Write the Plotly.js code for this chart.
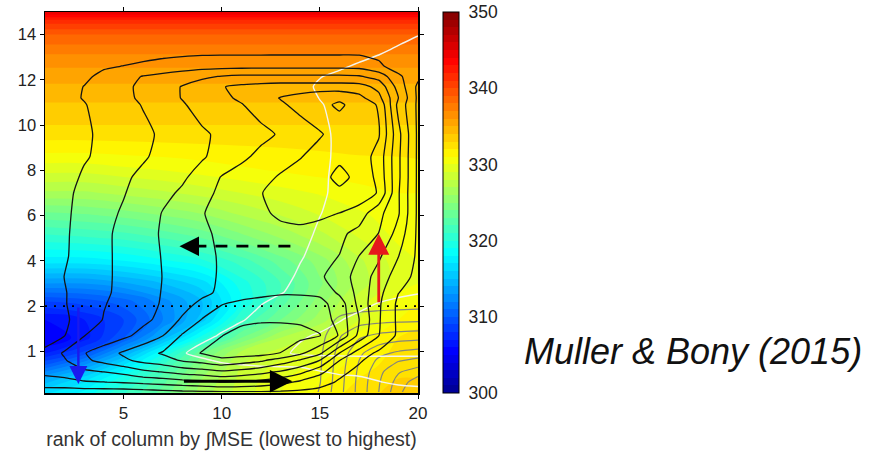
<!DOCTYPE html>
<html>
<head>
<meta charset="utf-8">
<script src="https://cdn.plot.ly/plotly-3.0.1.min.js"></script>
<style>html,body{margin:0;padding:0;background:#fff;}#chart{width:873px;height:452px;}</style>
</head>
<body>
<div id="chart"></div>
<script>
// ---------------- data ----------------
const RANK = [1,2,3,4,5,6,7,8,9,10,11,12,13,14,15,16,17,18,19,20];
const PSI_Z_KM = [0.1,0.32,0.55,0.8,0.96,1.35,1.7,2.1,2.6,3.3,4.2,5.2,6.1,7.0,7.7,8.6,9.6,10.9,11.2,11.7,12.15,12.6,13.3,14.2,15.0];

// overturning streamfunction (black contours)
const PSI = [
 [0.6,0.5,0.5,0.5,0.5,0.6,0.7,0.8,0.85,0.9,0.9,0.9,0.85,0.8,0.75,0.6,0.5,0.4,0.3,0.2],
 [1.5,1.65,1.9,1.98,2.1,2.25,2.4,2.6,2.75,3.02,2.9,2.7,2.3,1.8,1.3,0.9,0.6,0.45,0.35,0.3],
 [2.3,2.45,2.8,3.02,3.3,3.8,4.05,4.4,4.6,4.85,4.65,4.35,3.9,3.3,2.3,1.2,0.8,0.5,0.4,0.35],
 [2.4,2.9,3.8,4.3,4.8,5.3,5.6,6.1,6.4,6.8,6.5,6.15,5.55,4.9,3.98,2.02,1.1,0.6,0.5,0.4],
 [2.2,3.15,3.95,4.5,5.15,5.65,6.1,6.6,7.05,7.35,7.45,7.4,6.98,6.2,5.2,2.98,1.5,0.8,0.55,0.45],
 [1.6,1.98,2.98,3.35,3.75,4.35,4.98,6.1,6.6,6.98,7.3,7.4,7.4,7.3,7.05,5.9,3.7,2.02,0.8,0.5],
 [1.5,1.85,2.45,3.05,3.3,3.75,4.3,5.15,6.05,6.6,6.8,6.9,6.9,6.85,6.6,5.6,4.02,2.1,0.8,0.5],
 [1.45,1.95,2.4,2.95,3.3,3.6,4.1,4.6,5.25,5.95,6.25,6.35,6.4,6.35,6.3,5.55,3.7,2.15,0.8,0.5],
 [1.4,1.95,2.4,2.85,3.25,3.6,4.05,4.4,4.75,5.2,5.5,5.75,5.9,5.9,5.8,4.8,3.7,2.3,1.02,0.6],
 [1.35,2.02,2.45,2.85,3.2,3.55,4.02,4.35,4.75,5.1,5.3,5.4,5.45,5.35,5.15,4.5,3.6,2.6,1.5,0.7],
 [1.3,1.9,2.4,2.85,3.2,3.6,4.05,4.4,4.75,5.1,5.3,5.4,5.45,5.4,5.25,4.98,3.98,3.15,2.02,0.8],
 [1.3,1.85,2.45,2.85,3.2,3.65,4.1,4.45,4.85,5.15,5.4,5.6,5.75,5.8,5.6,5.2,4.7,3.98,2.6,0.8],
 [1.3,1.85,2.3,2.75,3.1,3.45,4.05,4.4,4.95,5.3,5.6,5.85,6.15,6.25,6.2,5.98,5.5,4.3,3.1,0.8],
 [1.3,1.75,2.3,2.6,2.95,3.35,3.75,4.15,4.7,5.2,5.5,5.98,6.2,6.4,6.65,6.85,6.7,5.9,3.1,0.8],
 [1.3,1.6,2.15,2.5,2.85,3.2,3.5,3.85,4.4,5.05,5.4,5.7,6.1,6.4,6.75,7.2,6.8,5.7,3.2,0.8],
 [1.35,1.6,1.9,2.25,2.55,2.9,3.25,3.5,3.9,4.35,4.8,5.25,5.6,5.95,6.4,6.85,6.6,5.6,3.2,0.8],
 [1.35,1.6,1.85,2.2,2.5,2.8,3.15,3.5,3.85,4.2,4.45,4.75,5.1,5.5,5.9,6.45,6.55,6.1,3.3,0.8],
 [1.4,1.7,1.95,2.35,2.7,3.05,3.45,3.9,4.4,4.75,4.95,5.4,5.85,6.3,6.75,7.15,6.6,5.9,2.7,0.8],
 [1.4,1.75,2.05,2.45,2.8,3.15,3.55,4.05,4.45,4.8,5.15,5.55,6.05,6.35,6.7,6.8,6.3,5.3,3.02,0.8],
 [1.4,1.7,2.02,2.4,2.8,3.2,3.6,4.05,4.5,4.95,5.2,5.35,5.45,5.45,5.45,5.45,5.4,4.7,2.6,0.8],
 [1.5,1.7,1.85,2.2,2.65,3.05,3.3,3.55,3.8,4.05,4.2,4.2,4.2,4.2,4.2,4.2,4.1,3.6,2.2,1.2],
 [1.6,1.7,1.8,1.9,2.02,2.15,2.33,2.5,2.65,2.7,2.72,2.74,2.75,2.75,2.75,2.75,2.7,2.2,1.5,1.2],
 [1.5,1.52,1.55,1.58,1.6,1.63,1.66,1.68,1.7,1.7,1.7,1.7,1.7,1.7,1.7,1.7,1.7,1.65,1.3,1.2],
 [1.45,1.5,1.5,1.5,1.5,1.5,1.5,1.5,1.5,1.5,1.5,1.5,1.5,1.5,1.5,1.5,1.45,1.4,1.25,1.2],
 [1.3,1.3,1.3,1.3,1.3,1.3,1.3,1.3,1.3,1.3,1.3,1.3,1.3,1.3,1.3,1.3,1.3,1.3,1.25,1.2]
];

// white contours field
const WHITE = [
 [0.5,0.5,0.5,0.5,0.5,0.5,0.5,0.5,0.5,0.5,0.5,0.5,0.5,0.5,0.5,0.5,0.5,0.5,0.5,0.5],
 [0.6,0.6,0.6,0.6,0.6,0.6,0.6,0.6,0.6,0.6,0.6,0.6,0.6,0.6,0.6,0.6,0.6,0.95,1.2,1.4],
 [0.6,0.6,0.6,0.6,0.6,0.6,0.6,0.6,0.6,0.6,0.6,0.6,0.6,0.6,0.95,1.15,1.3,1.4,1.5,1.6],
 [0.6,0.6,0.6,0.6,0.6,0.6,0.6,0.6,0.9,1.1,1.25,1.4,1.5,1.6,1.7,1.75,1.8,1.8,1.8,1.8],
 [0.6,0.6,0.6,0.6,0.6,0.6,0.6,0.95,1.2,1.4,1.6,1.75,1.9,2.1,2.15,2.15,2.15,2.15,2.15,2.15],
 [0.6,0.6,0.6,0.6,0.6,0.6,0.6,0.6,0.85,1.05,1.3,1.55,1.75,1.94,2.05,2.2,2.3,2.35,2.4,2.4],
 [0.6,0.6,0.6,0.6,0.6,0.6,0.6,0.6,0.6,0.8,0.95,1.2,1.4,1.6,1.8,1.97,2.15,2.25,2.3,2.35],
 [0.6,0.6,0.6,0.6,0.6,0.6,0.6,0.6,0.6,0.6,0.7,0.98,1.2,1.4,1.55,1.7,1.85,2.03,2.15,2.2],
 [0.6,0.6,0.6,0.6,0.6,0.6,0.6,0.6,0.6,0.6,0.6,0.8,0.97,1.15,1.3,1.45,1.6,1.75,1.88,1.97],
 [0.6,0.6,0.6,0.6,0.6,0.6,0.6,0.6,0.6,0.6,0.6,0.6,0.8,1.1,1.25,1.4,1.5,1.6,1.7,1.75],
 [0.6,0.6,0.6,0.6,0.6,0.6,0.6,0.6,0.6,0.6,0.6,0.6,0.6,0.95,1.2,1.3,1.4,1.5,1.6,1.65],
 [0.6,0.6,0.6,0.6,0.6,0.6,0.6,0.6,0.6,0.6,0.6,0.6,0.6,0.8,1.1,1.25,1.35,1.45,1.55,1.6],
 [0.6,0.6,0.6,0.6,0.6,0.6,0.6,0.6,0.6,0.6,0.6,0.6,0.6,0.7,0.98,1.2,1.3,1.4,1.5,1.55],
 [0.6,0.6,0.6,0.6,0.6,0.6,0.6,0.6,0.6,0.6,0.6,0.6,0.6,0.6,0.9,1.15,1.3,1.4,1.5,1.55],
 [0.6,0.6,0.6,0.6,0.6,0.6,0.6,0.6,0.6,0.6,0.6,0.6,0.6,0.6,0.88,1.15,1.3,1.4,1.5,1.55],
 [0.6,0.6,0.6,0.6,0.6,0.6,0.6,0.6,0.6,0.6,0.6,0.6,0.6,0.6,0.85,1.12,1.3,1.4,1.5,1.55],
 [0.6,0.6,0.6,0.6,0.6,0.6,0.6,0.6,0.6,0.6,0.6,0.6,0.6,0.6,0.85,1.12,1.3,1.4,1.5,1.55],
 [0.6,0.6,0.6,0.6,0.6,0.6,0.6,0.6,0.6,0.6,0.6,0.6,0.6,0.6,0.95,1.2,1.3,1.4,1.5,1.55],
 [0.6,0.6,0.6,0.6,0.6,0.6,0.6,0.6,0.6,0.6,0.6,0.6,0.6,0.7,1.02,1.2,1.3,1.4,1.5,1.55],
 [0.6,0.6,0.6,0.6,0.6,0.6,0.6,0.6,0.6,0.6,0.6,0.6,0.6,0.8,1.1,1.25,1.35,1.45,1.5,1.55],
 [0.6,0.6,0.6,0.6,0.6,0.6,0.6,0.6,0.6,0.6,0.6,0.6,0.6,0.7,0.97,1.15,1.3,1.4,1.5,1.55],
 [0.6,0.6,0.6,0.6,0.6,0.6,0.6,0.6,0.6,0.6,0.6,0.6,0.6,0.6,0.7,0.9,1.1,1.25,1.35,1.4],
 [0.6,0.6,0.6,0.6,0.6,0.6,0.6,0.6,0.6,0.6,0.6,0.6,0.6,0.6,0.6,0.6,0.7,0.9,1.1,1.25],
 [0.6,0.6,0.6,0.6,0.6,0.6,0.6,0.6,0.6,0.6,0.6,0.6,0.6,0.6,0.6,0.6,0.6,0.6,0.7,0.9],
 [0.6,0.6,0.6,0.6,0.6,0.6,0.6,0.6,0.6,0.6,0.6,0.6,0.6,0.6,0.6,0.6,0.6,0.6,0.6,0.6]
];

// gray contours field (lower-right corner)
const GRAY_Z_KM = [0.1,0.32,0.55,0.8,0.96,1.35,1.7,2.1,2.6];
const GRAY = [
 [0,0,0,0,0,0,0,0,0,0,0,0,0,0,1.1,2.67,4.33,6.0,7.67,9.3],
 [0,0,0,0,0,0,0,0,0,0,0,0,0,0,0.95,2.6,4.3,5.9,7.4,8.6],
 [0,0,0,0,0,0,0,0,0,0,0,0,0,0,0.9,2.55,4.2,5.7,6.9,7.5],
 [0,0,0,0,0,0,0,0,0,0,0,0,0,0,0.85,2.45,4.0,5.2,5.9,6.25],
 [0,0,0,0,0,0,0,0,0,0,0,0,0,0,0.8,2.35,3.8,4.7,5.2,5.45],
 [0,0,0,0,0,0,0,0,0,0,0,0,0,0,0.6,1.9,2.8,3.2,3.4,3.5],
 [0,0,0,0,0,0,0,0,0,0,0,0,0,0,0.3,1.2,1.5,1.65,1.75,1.8],
 [0,0,0,0,0,0,0,0,0,0,0,0,0,0,0,0.3,0.45,0.5,0.55,0.6],
 [0,0,0,0,0,0,0,0,0,0,0,0,0,0,0,0,0,0,0,0]
];

// moist static energy (K), colour field
const MSE_RANK = [1,3,5,7,9,11,13,15,17,19,20];
const MSE_Z_KM = [0.05,0.4,0.7,1.0,1.3,1.7,2.2,3,4,5,6,7,8,9,10,11,12,13,14,14.6,15.0];
const MSE = [
 [317,318.5,321,323.5,326.5,328.5,330,331.3,332.5,333.5,333.5],
 [314,316.5,319.5,322.5,326,328.3,329.8,330.8,332,333,333],
 [310,313,317,321,325,328,329.3,330.2,331.5,332.5,332.5],
 [306.5,309,313.5,318.5,323.5,327,328.3,329.4,331,332.3,332.5],
 [305,306.5,310,314.5,319.5,324,327,328.5,330.5,332,332.5],
 [306,307,309,312,315.5,321,324,326.5,329,331,331.5],
 [309,309.5,310.5,312.5,315,319,322.5,325.5,328.5,330.5,331],
 [313,313,313.8,315,316.5,319.5,322,324.8,327.5,329.5,330],
 [317.5,317.5,318,318.8,319.8,321.5,323.5,325.5,327.8,329.5,330],
 [320.5,320.8,321.2,322,323,324.5,326,327.5,329,330.2,330.5],
 [323.5,323.8,324.3,325,325.8,327,328,329,329.8,330.5,330.7],
 [326.8,326.8,327.3,327.8,328.4,329,329.6,330.1,330.6,331,331],
 [329.3,329.3,329.7,330,330.4,330.8,331.1,331.4,331.6,331.7,331.8],
 [331.5,331.5,331.6,331.7,331.8,331.9,332,332.1,332.2,332.2,332.2],
 [333,333,333,333,333,333,333,333,333,333,333],
 [334,334,334,334,334,334,334,334,334,334,334],
 [335.2,335.2,335.2,335.2,335.2,335.2,335.2,335.2,335.2,335.2,335.2],
 [336.7,336.7,336.7,336.7,336.7,336.7,336.7,336.7,336.7,336.7,336.7],
 [339,339,339,339,339,339,339,339,339,339,339],
 [341.5,341.5,341.5,341.5,341.5,341.5,341.5,341.5,341.5,341.5,341.5],
 [345,345,345,345,345,345,345,345,345,345,345]
];

const X_TICKS = [5,10,15,20];
const Y_TICKS_KM = [1,2,4,6,8,10,12,14];
const CB_TICKS = [300,310,320,330,340,350];

// arrows: [rank, km] tail -> head
const ARROWS = [
 {tail:[2.7,2.0],  head:[2.7,0.28], color:'#1a1aee', width:2.4},
 {tail:[18.0,2.1], head:[18.0,5.2], color:'#e5191c', width:2.8},
 {tail:[8.0,0.34], head:[13.6,0.34], color:'#000000', width:3},
 {tail:[8.9,4.65], head:[7.85,4.65], color:'#000000', width:2.6}
];
const DASHED_SEG = {from:[13.5,4.65], to:[8.7,4.65]};
const DOTTED_KM = 2;

// --------------- helpers ---------------
// vertical axis: 1 unit = 1 km below 2 km, 1 unit = 2 km above
function toAxis(km){ return km <= 2 ? km : 2 + (km - 2) / 2; }

const jet = [
 [0,'rgb(0,0,143)'],[0.11,'rgb(0,0,255)'],[0.365,'rgb(0,255,255)'],
 [0.62,'rgb(255,255,0)'],[0.873,'rgb(255,0,0)'],[1,'rgb(128,0,0)']
];
const FONT = 'Liberation Sans, Arial, Helvetica, sans-serif';

const traces = [
 {
  type:'contour', x:MSE_RANK, y:MSE_Z_KM.map(toAxis), z:MSE,
  colorscale:jet, zmin:300, zmax:350, autocontour:false,
  contours:{coloring:'fill', start:300, end:350, size:1, showlines:false},
  line:{width:0}, hoverinfo:'skip',
  colorbar:{
    x:1.067, xanchor:'left', xpad:0, ypad:0, y:0.5, yanchor:'middle', len:1,
    thickness:16, outlinewidth:1, outlinecolor:'#000',
    tickvals:CB_TICKS, ticks:'outside', ticklen:6, tickcolor:'rgba(0,0,0,0)',
    tickfont:{family:FONT, size:17.5, color:'#222'}
  }
 },
 {
  type:'contour', x:RANK, y:GRAY_Z_KM.map(toAxis), z:GRAY, showscale:false,
  autocontour:false, contours:{coloring:'none', start:1, end:8, size:1},
  line:{color:'#86867a', width:1.2, smoothing:0.6}, hoverinfo:'skip'
 },
 {
  type:'contour', x:RANK, y:PSI_Z_KM.map(toAxis), z:WHITE, showscale:false,
  autocontour:false, contours:{coloring:'none', start:1, end:2, size:1},
  line:{color:'#f4f4ee', width:1.4, smoothing:0.6}, hoverinfo:'skip'
 },
 {
  type:'contour', x:RANK, y:PSI_Z_KM.map(toAxis), z:PSI, showscale:false,
  autocontour:false, contours:{coloring:'none', start:1, end:7, size:1},
  line:{color:'#141414', width:1.3, smoothing:0.5}, hoverinfo:'skip'
 }
];

const annotations = ARROWS.map(a => ({
  x:a.head[0], y:toAxis(a.head[1]), ax:a.tail[0], ay:toAxis(a.tail[1]),
  xref:'x', yref:'y', axref:'x', ayref:'y', text:'', showarrow:true,
  arrowhead:2, arrowsize:1.5, arrowwidth:a.width, arrowcolor:a.color, standoff:0, startstandoff:0
}));
annotations.push({
  xref:'paper', yref:'paper', x:1.737, y:0.108, xanchor:'center', yanchor:'middle',
  text:'<i>Muller &amp; Bony (2015)</i>', showarrow:false,
  font:{family:FONT, size:36, color:'#111'}
});

const shapes = [
 {type:'line', xref:'x', yref:'y', x0:1, x1:20, y0:toAxis(DOTTED_KM), y1:toAxis(DOTTED_KM),
  line:{color:'#000', width:1.6, dash:'2px,7px'}, layer:'above'},
 {type:'line', xref:'x', yref:'y', x0:DASHED_SEG.from[0], x1:DASHED_SEG.to[0],
  y0:toAxis(DASHED_SEG.from[1]), y1:toAxis(DASHED_SEG.to[1]),
  line:{color:'#000', width:2.6, dash:'12px,9px'}, layer:'above'}
];

const layout = {
  width:873, height:452,
  margin:{l:45, r:455, t:12, b:59, pad:0},
  paper_bgcolor:'#fff', plot_bgcolor:'#fff',
  showlegend:false,
  xaxis:{
    range:[1,20], tickvals:X_TICKS, ticks:'outside', ticklen:4, tickcolor:'#000',
    showline:true, linecolor:'#000', linewidth:1.5, mirror:'ticks', showgrid:false, zeroline:false,
    automargin:false,
    tickfont:{family:FONT, size:17, color:'#222'},
    title:{text:'rank of column by \u222BMSE (lowest to highest)', standoff:10,
           font:{family:FONT, size:19.5, color:'#333'}}
  },
  yaxis:{
    range:[toAxis(0.08), toAxis(15)], tickvals:Y_TICKS_KM.map(toAxis), ticktext:Y_TICKS_KM.map(String),
    ticks:'outside', ticklen:4, tickcolor:'#000', automargin:false,
    showline:true, linecolor:'#000', linewidth:1.5, mirror:'ticks', showgrid:false, zeroline:false,
    tickfont:{family:FONT, size:16.5, color:'#222'}
  },
  annotations:annotations,
  shapes:shapes
};

Plotly.newPlot('chart', traces, layout, {staticPlot:true, displayModeBar:false});
</script>
</body>
</html>
